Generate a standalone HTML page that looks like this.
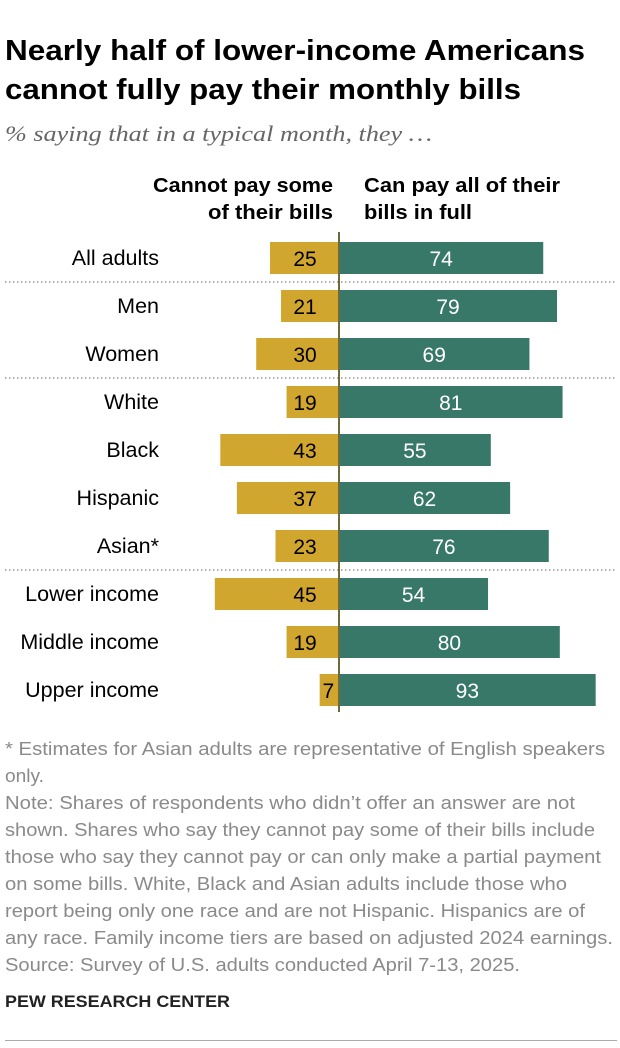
<!DOCTYPE html>
<html><head><meta charset="utf-8"><style>
body{margin:0;background:#fff;width:620px;height:1048px;overflow:hidden;font-family:"Liberation Sans",sans-serif;position:relative}
</style></head><body>
<svg id="chart" width="620" height="1048" style="position:absolute;left:0;top:0" font-family="Liberation Sans, sans-serif">
<g font-size="29" font-weight="bold" fill="#000">
<text x="5" y="60" textLength="580" lengthAdjust="spacingAndGlyphs">Nearly half of lower-income Americans</text>
<text x="5" y="99" textLength="516" lengthAdjust="spacingAndGlyphs">cannot fully pay their monthly bills</text>
</g>
<text x="5" y="141" font-family="Liberation Serif, serif" font-style="italic" font-size="22" fill="#666" textLength="427" lengthAdjust="spacingAndGlyphs">% saying that in a typical month, they …</text>
<g font-size="20" font-weight="bold" fill="#000">
<text x="153" y="192" textLength="180" lengthAdjust="spacingAndGlyphs">Cannot pay some</text>
<text x="208" y="219" textLength="125" lengthAdjust="spacingAndGlyphs">of their bills</text>
</g>
<g font-size="20" font-weight="bold" fill="#000">
<text x="364" y="192" textLength="196" lengthAdjust="spacingAndGlyphs">Can pay all of their</text>
<text x="364" y="219" textLength="108" lengthAdjust="spacingAndGlyphs">bills in full</text>
</g>
<g font-size="18" fill="#8a8a8a">
<text x="5" y="755" textLength="600" lengthAdjust="spacingAndGlyphs">* Estimates for Asian adults are representative of English speakers</text>
<text x="5" y="782" textLength="39" lengthAdjust="spacingAndGlyphs">only.</text>
<text x="5" y="809" textLength="570" lengthAdjust="spacingAndGlyphs">Note: Shares of respondents who didn’t offer an answer are not</text>
<text x="5" y="836" textLength="590" lengthAdjust="spacingAndGlyphs">shown. Shares who say they cannot pay some of their bills include</text>
<text x="5" y="863" textLength="596" lengthAdjust="spacingAndGlyphs">those who say they cannot pay or can only make a partial payment</text>
<text x="5" y="890" textLength="562" lengthAdjust="spacingAndGlyphs">on some bills. White, Black and Asian adults include those who</text>
<text x="5" y="917" textLength="580" lengthAdjust="spacingAndGlyphs">report being only one race and are not Hispanic. Hispanics are of</text>
<text x="5" y="944" textLength="608" lengthAdjust="spacingAndGlyphs">any race. Family income tiers are based on adjusted 2024 earnings.</text>
<text x="5" y="971" textLength="515" lengthAdjust="spacingAndGlyphs">Source: Survey of U.S. adults conducted April 7-13, 2025.</text>
</g>
<text x="5" y="1007" font-size="17" font-weight="bold" fill="#222" textLength="225" lengthAdjust="spacingAndGlyphs">PEW RESEARCH CENTER</text>
<line x1="5" x2="617" y1="1040.5" y2="1040.5" stroke="#aaa" stroke-width="1"/>
</svg>
<script>
const categories=["All adults","Men","Women","White","Black","Hispanic","Asian*","Lower income","Middle income","Upper income"];
const cannotPay=[25,21,30,19,43,37,23,45,19,7];
const canPay=[74,79,69,81,55,62,76,54,80,93];
const separatorsAfter=[0,2,6];
const svg=document.getElementById('chart');
const NS='http://www.w3.org/2000/svg';
const x0=339,k=2.76,top0=258,step=48,bh=32;
const xs=v=>v*k;const ys=i=>top0+i*step;
function mk(t,a){const e=document.createElementNS(NS,t);for(const n in a)e.setAttribute(n,a[n]);svg.appendChild(e);return e;}
categories.forEach((c,i)=>{
 const y=ys(i);
 const l=mk('text',{x:159,y:y+7,'text-anchor':'end','font-size':21.5,fill:'#000'});l.textContent=c;
 
 
 const w1=xs(cannotPay[i]);
 const b1=mk('rect',{x:x0-w1,y:y-bh/2,width:w1,height:bh,fill:'#D1A62E'});
 
 
 const t1=mk('text',{x:cannotPay[i]<10?x0-w1/2-1:x0-34,y:y+8,'text-anchor':'middle','font-size':21,fill:'#000'});t1.textContent=cannotPay[i];
 
 
 const w2=xs(canPay[i]);
 const b2=mk('rect',{x:x0,y:y-bh/2,width:w2,height:bh,fill:'#387868'});
 
 
 const t2=mk('text',{x:x0+w2/2,y:y+8,'text-anchor':'middle','font-size':21,fill:'#fff'});t2.textContent=canPay[i];
 
 
});
separatorsAfter.forEach(i=>{
 const y=ys(i)+step/2;
 const d=mk('line',{x1:5,x2:617,y1:y,y2:y,stroke:'#999','stroke-width':1.5,'stroke-dasharray':'1.5,2.5'});
 
 
});
const ax=mk('line',{x1:x0,x2:x0,y1:ys(0)-26,y2:ys(categories.length-1)+22,stroke:'#6b6a3c','stroke-width':2});


</script>
</body></html>
